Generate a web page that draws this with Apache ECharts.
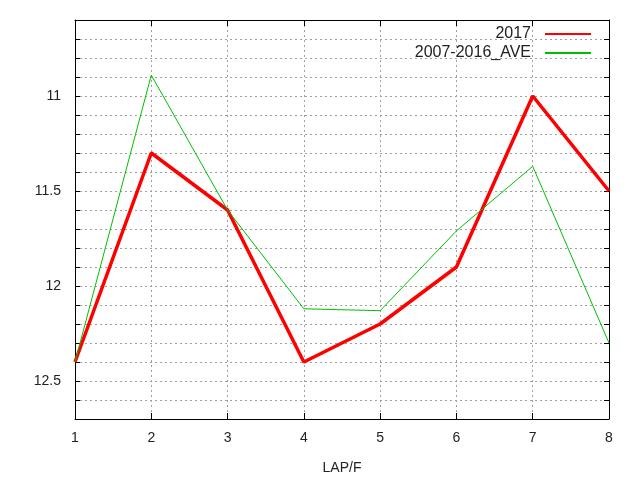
<!DOCTYPE html>
<html>
<head>
<meta charset="utf-8">
<script src="https://cdn.jsdelivr.net/npm/echarts@6/dist/echarts.min.js"></script>
<style>
  html, body { margin: 0; padding: 0; background: #fff; }
  #chart { width: 640px; height: 480px; }
</style>
</head>
<body>
<div id="chart"></div>
<script>
// lap numbers and lap times (inverted axis, smaller is better)
let laps = [1, 2, 3, 4, 5, 6, 7, 8];
let lap2017 = [12.4, 11.3, 11.6, 12.4, 12.2, 11.9, 11.0, 11.5];
let lapAve = [12.4, 10.89, 11.6, 12.12, 12.13, 11.71, 11.37, 12.3];
let yLabels = [11, 11.5, 12, 12.5];

function pairs(ys) {
  return laps.map((x, i) => [x, ys[i]]);
}

let font = 'Liberation Sans, Arial, sans-serif';
let gridLine = {show: true, lineStyle: {color: '#a0a0a0', type: [2, 3], width: 1}};

let chart = echarts.init(document.getElementById('chart'));
chart.setOption({
  animation: false,
  backgroundColor: '#fff',
  textStyle: {fontFamily: font},
  grid: {left: 75, right: 31, top: 20, bottom: 61},
  legend: {
    orient: 'vertical',
    right: 43,
    top: 21,
    align: 'right',
    itemWidth: 46,
    itemHeight: 12,
    itemGap: 3,
    itemStyle: {opacity: 0},
    textStyle: {fontSize: 16, color: '#222', fontFamily: font, padding: [0, 9, 0, 0]},
    data: ['2017', '2007-2016_AVE']
  },
  xAxis: [
    {
      type: 'value', min: 1, max: 8, interval: 1,
      name: 'LAP/F', nameLocation: 'middle', nameGap: 42,
      nameTextStyle: {fontSize: 14, color: '#222'},
      axisLine: {lineStyle: {color: '#000'}},
      axisTick: {inside: true, length: 6, lineStyle: {color: '#000'}},
      axisLabel: {fontSize: 14, color: '#222', margin: 12},
      splitLine: gridLine
    },
    {
      type: 'value', min: 1, max: 8, interval: 1, position: 'top',
      axisLine: {show: true, lineStyle: {color: '#000'}},
      axisTick: {inside: true, length: 6, lineStyle: {color: '#000'}},
      axisLabel: {show: false},
      splitLine: {show: false}
    }
  ],
  yAxis: [
    {
      type: 'value', inverse: true, min: 10.6, max: 12.7, interval: 0.1,
      axisLine: {show: true, lineStyle: {color: '#000'}},
      axisTick: {show: true, inside: true, length: 5, lineStyle: {color: '#000'}},
      axisLabel: {
        fontSize: 14, color: '#222', margin: 14,
        formatter: function (v) {
          let r = Math.round(v * 10) / 10;
          return yLabels.some(l => Math.abs(l - r) < 1e-6) ? String(r) : '';
        }
      },
      splitLine: gridLine
    },
    {
      type: 'value', inverse: true, min: 10.6, max: 12.7, interval: 0.1, position: 'right',
      axisLine: {show: true, lineStyle: {color: '#000'}},
      axisTick: {show: true, inside: true, length: 5, lineStyle: {color: '#000'}},
      axisLabel: {show: false},
      splitLine: {show: false}
    }
  ],
  series: [
    {
      name: '2017', type: 'line', data: pairs(lap2017),
      symbol: 'none', color: '#ff0000',
      lineStyle: {width: 3.5, color: '#ff0000'}
    },
    {
      name: '2007-2016_AVE', type: 'line', data: pairs(lapAve),
      symbol: 'none', color: '#00c000',
      lineStyle: {width: 1, color: '#00c000'}
    }
  ]
});
</script>
</body>
</html>
